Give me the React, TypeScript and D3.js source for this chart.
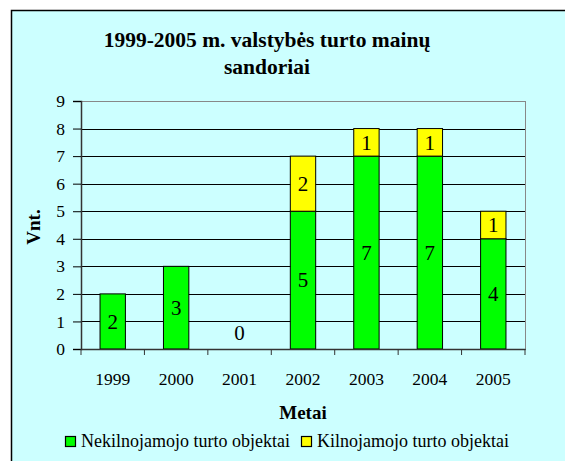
import { useEffect, useRef } from 'react';
import * as d3 from 'd3';

const years = ['1999', '2000', '2001', '2002', '2003', '2004', '2005'];
const immovable = [2, 3, 0, 5, 7, 7, 4];
const movable = [0, 0, 0, 2, 1, 1, 1];
const seriesNames = ['Nekilnojamojo turto objektai', 'Kilnojamojo turto objektai'];
const seriesColors = ['#00FF00', '#FFFF00'];
const yTicks = [0, 1, 2, 3, 4, 5, 6, 7, 8, 9];

const [width, height] = [565, 461];
const plot = { left: 81, right: 525, top: 101, bottom: 349 };
const serif = "'Liberation Serif', 'Times New Roman', Times, serif";

function App() {
    const node = useRef<SVGSVGElement>(null);
    useEffect(() => {
        if (!node.current) return;
        const svg = d3.select(node.current);
        svg.selectAll('*').remove();

        /** frame */
        svg.append('rect')
            .attr('x', 11.5).attr('y', 10.5)
            .attr('width', width + 20).attr('height', height + 20)
            .attr('fill', '#CCFFFF').attr('stroke', '#000').attr('stroke-width', 1.5);

        /** scales */
        const x = d3.scaleBand().domain(years).range([plot.left, plot.right]).paddingInner(0);
        const y = d3.scaleLinear().domain([0, 9]).range([plot.bottom, plot.top]);
        const barW = x.bandwidth() / 2.5;

        /** title */
        const title = svg.append('text')
            .attr('text-anchor', 'middle')
            .style('font-family', serif).style('font-weight', 'bold').style('font-size', '21.5px');
        title.append('tspan').attr('x', 267).attr('y', 47).text('1999-2005 m. valstybės turto mainų');
        title.append('tspan').attr('x', 267).attr('y', 74).text('sandoriai');

        /** grid + border */
        svg.append('g').selectAll('line')
            .data(yTicks.filter(t => t > 0 && t < 9))
            .enter().append('line')
            .attr('x1', plot.left).attr('x2', plot.right)
            .attr('y1', d => Math.round(y(d)) + 0.5).attr('y2', d => Math.round(y(d)) + 0.5)
            .attr('stroke', '#000');
        svg.append('rect')
            .attr('x', plot.left + 0.5).attr('y', plot.top + 0.5)
            .attr('width', plot.right - plot.left).attr('height', plot.bottom - plot.top)
            .attr('fill', 'none').attr('stroke', '#888');

        /** bars */
        const stack = d3.stack<number>().keys(['0', '1'])
            .value((i, k) => (k === '0' ? immovable[i] : movable[i]));
        const layers = stack(d3.range(years.length));
        layers.forEach((layer, li) => {
            const g = svg.append('g');
            layer.forEach((seg, i) => {
                const v = seg[1] - seg[0];
                const cx = (x(years[i]) as number) + x.bandwidth() / 2;
                if (v > 0) {
                    g.append('rect')
                        .attr('x', cx - barW / 2).attr('y', y(seg[1]))
                        .attr('width', barW).attr('height', y(seg[0]) - y(seg[1]))
                        .attr('fill', seriesColors[li]).attr('stroke', '#000').attr('stroke-width', 1);
                }
                if (v > 0 || (li === 0 && v === 0 && movable[i] === 0)) {
                    g.append('text')
                        .attr('x', cx)
                        .attr('y', v > 0 ? y((seg[0] + seg[1]) / 2) : y(0) - 16)
                        .attr('dy', '0.35em')
                        .attr('text-anchor', 'middle')
                        .style('font-family', serif).style('font-size', '21px')
                        .text(v);
                }
            });
        });

        /** axes */
        const yAxis = svg.append('g')
            .attr('transform', `translate(${plot.left},0)`)
            .call(d3.axisLeft(y).tickValues(yTicks).tickSize(8).tickPadding(8).tickFormat(d3.format('d')));
        const xAxis = svg.append('g')
            .attr('transform', `translate(0,${plot.bottom})`)
            .call(d3.axisBottom(x).tickSize(0).tickPadding(24));
        xAxis.append('g').selectAll('line')
            .data(d3.range(years.length + 1))
            .enter().append('line')
            .attr('x1', i => plot.left + i * x.bandwidth()).attr('x2', i => plot.left + i * x.bandwidth())
            .attr('y1', 0).attr('y2', 6).attr('stroke', '#333');
        [yAxis, xAxis].forEach(a => {
            a.attr('font-family', null).attr('font-size', null);
            a.select('.domain').attr('stroke', '#333').attr('stroke-width', 1.5);
            a.selectAll('.tick line').attr('stroke', '#000');
            a.selectAll('text').style('font-family', serif).style('font-size', '17.5px').attr('fill', '#000');
        });

        /** axis titles */
        svg.append('text')
            .attr('transform', `translate(33,${(plot.top + plot.bottom) / 2 + 2}) rotate(-90)`)
            .attr('text-anchor', 'middle').attr('dy', '0.35em')
            .style('font-family', serif).style('font-weight', 'bold').style('font-size', '19px')
            .text('Vnt.');
        svg.append('text')
            .attr('x', 303).attr('y', 419)
            .attr('text-anchor', 'middle')
            .style('font-family', serif).style('font-weight', 'bold').style('font-size', '19px')
            .text('Metai');

        /** legend */
        const legendX = [65, 301];
        seriesNames.forEach((name, i) => {
            svg.append('rect')
                .attr('x', legendX[i] + 0.5).attr('y', 436.5).attr('width', 10).attr('height', 10)
                .attr('fill', seriesColors[i]).attr('stroke', '#000').attr('stroke-width', 1.2);
            svg.append('text')
                .attr('x', legendX[i] + 16).attr('y', 447)
                .style('font-family', serif).style('font-size', '18px')
                .text(name);
        });
    }, [node]);

    return (
        <div style={{ position: 'absolute', left: 0, top: 0 }}>
            <svg ref={node} width={width} height={height} style={{ display: 'block', background: '#fff' }}></svg>
        </div>
    );
}

export default App;
